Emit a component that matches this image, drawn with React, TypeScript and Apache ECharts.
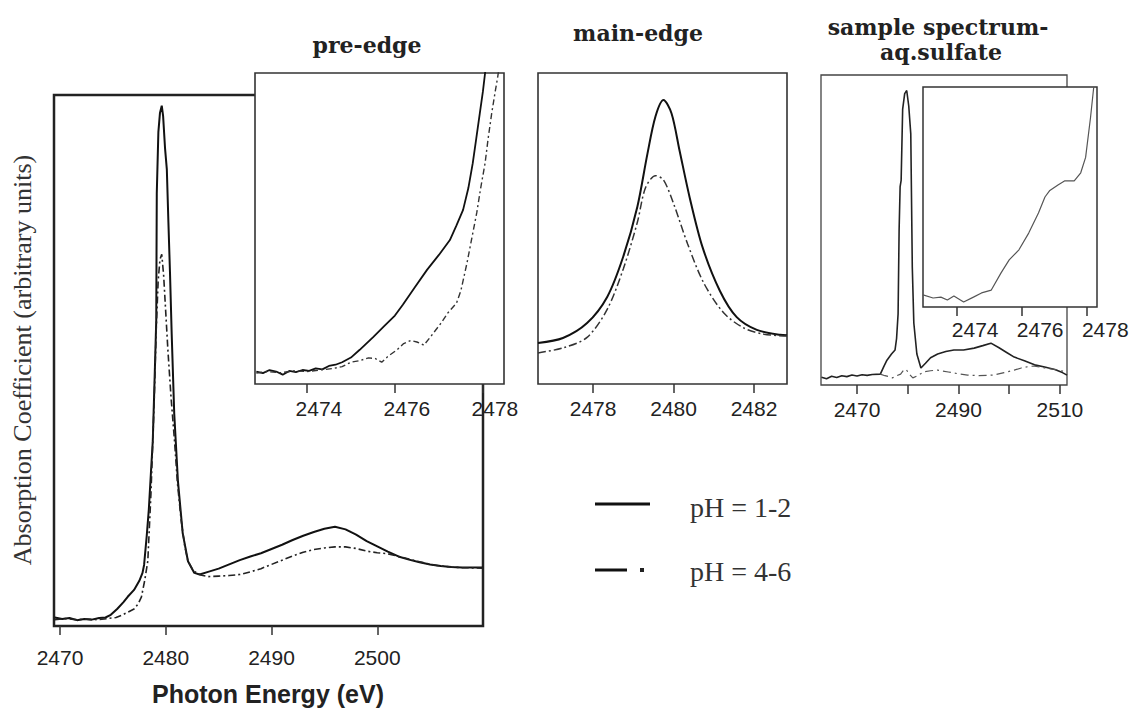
import React, { useEffect, useRef } from 'react';
import * as echarts from 'echarts';

// ---------- tick / label values ----------
const mainTicks = [2470, 2480, 2490, 2500];
const preEdgeTicks = [2474, 2476, 2478];
const mainEdgeTicks = [2478, 2480, 2482];
const sampleTicks = [2470, 2480, 2490, 2500, 2510];
const sampleLabels = [2470, 2490, 2510];
const sampleInsetTicks = [2474, 2476, 2478];

// ---------- texts ----------
const seriesNames = ['pH = 1-2', 'pH = 4-6'];
const panelTitles = ['pre-edge', 'main-edge', 'sample spectrum-', 'aq.sulfate'];
const yAxisTitle = 'Absorption Coefficient (arbitrary units)';
const xAxisTitle = 'Photon Energy (eV)';

// ---------- data: [energy eV, absorption (arb.)] ----------
const mainPH12: [number, number][] = [
  [2469.5, 0.016], [2470.2, 0.013], [2470.9, 0.015], [2471.6, 0.011], [2472.3, 0.013], [2473.0, 0.012],
  [2473.7, 0.015], [2474.3, 0.016], [2474.8, 0.021], [2475.4, 0.032], [2476.0, 0.045], [2476.4, 0.055],
  [2477.0, 0.068], [2477.5, 0.085], [2477.8, 0.1], [2477.95, 0.115], [2478.2, 0.17], [2478.4, 0.22],
  [2478.6, 0.29], [2478.77, 0.348], [2478.95, 0.47], [2479.1, 0.576], [2479.12, 0.676], [2479.15, 0.815],
  [2479.3, 0.93], [2479.45, 0.966], [2479.62, 0.98], [2479.75, 0.96], [2479.93, 0.9], [2480.1, 0.86],
  [2480.25, 0.76], [2480.4, 0.665], [2480.56, 0.55], [2480.8, 0.4], [2481.15, 0.273], [2481.6, 0.175],
  [2482.1, 0.122], [2482.7, 0.1], [2483.2, 0.097], [2484, 0.102], [2485, 0.108], [2486, 0.116],
  [2487, 0.124], [2488, 0.131], [2489, 0.137], [2490, 0.145], [2491, 0.153], [2492, 0.162],
  [2493, 0.17], [2494, 0.177], [2495, 0.183], [2496, 0.187], [2497, 0.182], [2498, 0.172],
  [2499, 0.16], [2500, 0.15], [2501, 0.14], [2502, 0.131], [2503, 0.125], [2504, 0.12],
  [2505, 0.116], [2506, 0.113], [2507, 0.111], [2508, 0.11], [2510, 0.11],
];
const mainPH46: [number, number][] = [
  [2469.5, 0.012], [2470.5, 0.014], [2471.5, 0.012], [2472.5, 0.013], [2473.5, 0.012], [2474.5, 0.014],
  [2475.3, 0.016], [2475.8, 0.02], [2476.5, 0.027], [2477.0, 0.032], [2477.4, 0.042], [2477.7, 0.055],
  [2478.0, 0.085], [2478.3, 0.122], [2478.6, 0.25], [2478.9, 0.42], [2479.1, 0.56], [2479.28, 0.65],
  [2479.45, 0.69], [2479.62, 0.7], [2479.8, 0.66], [2480.0, 0.59], [2480.2, 0.52], [2480.5, 0.43],
  [2480.83, 0.348], [2481.1, 0.27], [2481.45, 0.2], [2481.8, 0.15], [2482.1, 0.122], [2482.6, 0.104],
  [2483.3, 0.096], [2484, 0.093], [2485, 0.094], [2486, 0.095], [2487, 0.097], [2488, 0.102],
  [2489, 0.108], [2490, 0.116], [2491, 0.124], [2492, 0.132], [2493, 0.139], [2494, 0.144],
  [2495, 0.147], [2496, 0.149], [2497, 0.149], [2498, 0.146], [2499, 0.141], [2500, 0.138],
  [2501, 0.136], [2502, 0.131], [2503, 0.126], [2504, 0.121], [2505, 0.116], [2506, 0.113],
  [2507, 0.111], [2508, 0.11], [2510, 0.109],
];

const prePH12: [number, number][] = [
  [2472.85, 0.04], [2473.0, 0.035], [2473.15, 0.045], [2473.3, 0.04], [2473.45, 0.03], [2473.6, 0.042],
  [2473.75, 0.038], [2473.9, 0.045], [2474.05, 0.042], [2474.2, 0.05], [2474.35, 0.047], [2474.5, 0.058],
  [2474.65, 0.062], [2474.8, 0.07], [2475.0, 0.085], [2475.2, 0.11], [2475.5, 0.15], [2475.75, 0.185],
  [2476.0, 0.22], [2476.18, 0.255], [2476.45, 0.31], [2476.73, 0.367], [2477.0, 0.415], [2477.25, 0.463],
  [2477.4, 0.51], [2477.55, 0.56], [2477.67, 0.63], [2477.77, 0.71], [2477.85, 0.79], [2477.93, 0.87],
  [2478.0, 0.94], [2478.05, 1.0], [2478.1, 1.06],
];
const prePH46: [number, number][] = [
  [2472.85, 0.035], [2473.1, 0.04], [2473.4, 0.036], [2473.7, 0.042], [2474.0, 0.04], [2474.3, 0.045],
  [2474.6, 0.05], [2474.8, 0.056], [2475.0, 0.07], [2475.2, 0.075], [2475.4, 0.084], [2475.55, 0.082],
  [2475.7, 0.07], [2475.85, 0.09], [2476.05, 0.11], [2476.2, 0.13], [2476.36, 0.14], [2476.5, 0.135],
  [2476.66, 0.125], [2476.8, 0.15], [2477.05, 0.196], [2477.2, 0.228], [2477.4, 0.26], [2477.5, 0.3],
  [2477.64, 0.39], [2477.75, 0.47], [2477.86, 0.55], [2477.95, 0.63], [2478.05, 0.71], [2478.12, 0.79],
  [2478.2, 0.87], [2478.28, 0.94], [2478.34, 0.99], [2478.4, 1.05],
];

const edgePH12: [number, number][] = [
  [2476.63, 0.132], [2477.25, 0.148], [2477.85, 0.196], [2478.35, 0.28], [2478.75, 0.41], [2479.1, 0.57],
  [2479.35, 0.74], [2479.55, 0.86], [2479.75, 0.913], [2479.95, 0.87], [2480.15, 0.75], [2480.4, 0.6],
  [2480.72, 0.44], [2481.15, 0.3], [2481.57, 0.215], [2482.07, 0.174], [2482.65, 0.158], [2482.82, 0.157],
];
const edgePH46: [number, number][] = [
  [2476.63, 0.1], [2477.25, 0.116], [2477.85, 0.15], [2478.35, 0.24], [2478.75, 0.37], [2479.1, 0.52],
  [2479.3, 0.63], [2479.55, 0.67], [2479.75, 0.656], [2480.0, 0.58], [2480.35, 0.45], [2480.75, 0.325],
  [2481.25, 0.228], [2481.75, 0.18], [2482.25, 0.16], [2482.82, 0.154],
];

const samplePH12: [number, number][] = [
  [2463, 0.025], [2464, 0.02], [2465, 0.028], [2466, 0.024], [2467, 0.03], [2468, 0.027], [2469, 0.032],
  [2470, 0.029], [2471, 0.033], [2472, 0.031], [2473, 0.034], [2474.6, 0.035], [2475.3, 0.06],
  [2475.9, 0.08], [2476.8, 0.1], [2477.5, 0.113], [2477.8, 0.15], [2478.1, 0.23], [2478.3, 0.5],
  [2478.5, 0.64], [2478.7, 0.66], [2479.0, 0.89], [2479.4, 0.94], [2479.8, 0.95], [2480.2, 0.9],
  [2480.6, 0.81], [2480.9, 0.38], [2481.2, 0.2], [2481.8, 0.1], [2482.6, 0.055], [2483.5, 0.07],
  [2484.5, 0.088], [2485.9, 0.1], [2487.5, 0.108], [2489.1, 0.113], [2491, 0.113], [2493.1, 0.119],
  [2494.8, 0.127], [2496.4, 0.135], [2498, 0.12], [2499.5, 0.105], [2501, 0.09], [2503, 0.078],
  [2505, 0.065], [2507, 0.058], [2509, 0.05], [2510.5, 0.04], [2511.4, 0.032],
];
const samplePH46: [number, number][] = [
  [2474.6, 0.035], [2475.5, 0.03], [2476.3, 0.027], [2477.0, 0.023], [2477.8, 0.03], [2478.6, 0.035],
  [2479.2, 0.048], [2479.7, 0.05], [2480.3, 0.035], [2481, 0.023], [2482, 0.03], [2483.1, 0.042],
  [2484.5, 0.046], [2485.9, 0.048], [2488, 0.042], [2490, 0.036], [2491.8, 0.032], [2494, 0.03],
  [2497, 0.032], [2499, 0.04], [2501, 0.048], [2502.4, 0.055], [2504, 0.06], [2505, 0.061],
  [2507, 0.055], [2509, 0.05], [2511.4, 0.042],
];

const sampleInset: [number, number][] = [
  [2472.95, 0.055], [2473.26, 0.041], [2473.5, 0.045], [2473.7, 0.032], [2473.9, 0.05], [2474.2, 0.023],
  [2474.5, 0.045], [2474.75, 0.064], [2475.05, 0.077], [2475.35, 0.155], [2475.6, 0.214], [2475.9, 0.26],
  [2476.2, 0.336], [2476.5, 0.427], [2476.7, 0.5], [2476.85, 0.53], [2477.1, 0.555], [2477.3, 0.573],
  [2477.6, 0.573], [2477.8, 0.61], [2477.95, 0.68], [2478.1, 0.86], [2478.2, 1.0],
];

const SANS = '"Liberation Sans", Arial, sans-serif';
const SERIF = '"Liberation Serif", "Times New Roman", serif';
const TITLE_FONT = 'bold 22px "DejaVu Serif", "Liberation Serif", serif';

function makeX(
  gridIndex: number, min: number, max: number, ticks: number[], labels: number[],
  margin: number, shift: number, z: number
) {
  return {
    type: 'value', gridIndex, min, max, z,
    axisLine: { show: false },
    axisTick: { show: true, customValues: ticks, length: 9, lineStyle: { color: '#333', width: 1.5 } },
    axisLabel: {
      show: true, customValues: labels, margin, color: '#222', fontSize: 21, fontFamily: SANS,
      padding: [0, 0, 0, shift * 2], formatter: (v: number) => String(v),
    },
    splitLine: { show: false },
  };
}
function makeY(gridIndex: number, z: number) {
  return { type: 'value', gridIndex, min: 0, max: 1, show: false, z };
}

function line(name: string, xi: number, data: [number, number][], color: string, width: number, type: any, z: number, smooth: number | boolean = false) {
  return {
    type: 'line', name, xAxisIndex: xi, yAxisIndex: xi, data, showSymbol: false, symbol: 'none',
    smooth, clip: true, z, lineStyle: { color, width, type }, silent: true,
  };
}

function txt(text: string, x: number, y: number, font: string, fill: string, align = 'center', rotation = 0) {
  return {
    type: 'text', x, y, rotation, z: 20,
    style: { text, font, fill, align, verticalAlign: 'middle', textAlign: align, textVerticalAlign: 'middle' },
  };
}

export default function App() {
  const ref = useRef<HTMLDivElement>(null);
  useEffect(() => {
    if (!ref.current) return;
    const chart = echarts.init(ref.current, null, { renderer: 'svg' });
    const dashDot = [7, 3, 2, 3];
    const option: any = {
      animation: false,
      backgroundColor: '#fff',
      grid: [
        { left: 54, top: 95, width: 429, height: 531, show: true, borderColor: '#222', borderWidth: 2.5, backgroundColor: 'transparent', z: 0, containLabel: false, outerBoundsMode: 'none' },
        { left: 255, top: 73, width: 249, height: 311, show: true, borderColor: '#333', borderWidth: 1.6, backgroundColor: '#fff', z: 5, containLabel: false, outerBoundsMode: 'none' },
        { left: 538, top: 73, width: 249, height: 311, show: true, borderColor: '#333', borderWidth: 1.6, backgroundColor: '#fff', z: 5, containLabel: false, outerBoundsMode: 'none' },
        { left: 821, top: 75, width: 246, height: 310, show: true, borderColor: '#444', borderWidth: 1.3, backgroundColor: '#fff', z: 5, containLabel: false, outerBoundsMode: 'none' },
        { left: 923, top: 87, width: 174, height: 220, show: true, borderColor: '#333', borderWidth: 1.5, backgroundColor: '#fff', z: 10, containLabel: false, outerBoundsMode: 'none' },
      ],
      xAxis: [
        makeX(0, 2469.43, 2510, mainTicks, mainTicks, 21, 0, 1),
        makeX(1, 2472.82, 2478.48, preEdgeTicks, preEdgeTicks, 14, 12, 6),
        makeX(2, 2476.63, 2482.82, mainEdgeTicks, mainEdgeTicks, 14, 0, 6),
        makeX(3, 2462.9, 2511.4, sampleTicks, sampleLabels, 14, 0, 6),
        makeX(4, 2472.95, 2478.3, sampleInsetTicks, sampleInsetTicks, 12, 18, 11),
      ],
      yAxis: [makeY(0, 1), makeY(1, 6), makeY(2, 6), makeY(3, 6), makeY(4, 11)],
      series: [
        line(seriesNames[0], 0, mainPH12, '#111', 2, 'solid', 2),
        line(seriesNames[1], 0, mainPH46, '#222', 1.6, dashDot, 2),
        line(seriesNames[0], 1, prePH12, '#111', 1.8, 'solid', 7),
        line(seriesNames[1], 1, prePH46, '#333', 1.4, [6, 3, 2, 3], 7),
        line(seriesNames[0], 2, edgePH12, '#111', 2, 'solid', 7, 0.3),
        line(seriesNames[1], 2, edgePH46, '#333', 1.5, [8, 3, 2, 3], 7, 0.3),
        line(seriesNames[0], 3, samplePH12, '#222', 1.6, 'solid', 7),
        line(seriesNames[1], 3, samplePH46, '#555', 1.2, [8, 4, 2, 4], 7),
        line('sample', 4, sampleInset, '#555', 1.2, 'solid', 12),
      ],
      graphic: [
        txt(panelTitles[0], 367, 45, TITLE_FONT, '#222'),
        txt(panelTitles[1], 638, 33, TITLE_FONT, '#222'),
        txt(panelTitles[2], 938, 27, TITLE_FONT, '#222'),
        txt(panelTitles[3], 941, 52, TITLE_FONT, '#222'),
        txt(yAxisTitle, 22, 360, `26px ${SERIF}`, '#333', 'center', Math.PI / 2),
        txt(xAxisTitle, 268, 694, `bold 25px ${SANS}`, '#222'),
        // legend
        { type: 'line', z: 20, shape: { x1: 595, y1: 504, x2: 650, y2: 504 }, style: { stroke: '#111', lineWidth: 3 } },
        txt(seriesNames[0], 690, 507, `28px ${SERIF}`, '#333', 'left'),
        { type: 'line', z: 20, shape: { x1: 595, y1: 570, x2: 627, y2: 570 }, style: { stroke: '#111', lineWidth: 3 } },
        { type: 'rect', z: 20, shape: { x: 640, y: 568, width: 4, height: 4 }, style: { fill: '#222' } },
        txt(seriesNames[1], 690, 571, `28px ${SERIF}`, '#333', 'left'),
      ],
    };
    chart.setOption(option);
    return () => chart.dispose();
  }, []);
  return <div ref={ref} style={{ position: 'absolute', left: 0, top: 0, width: 1133, height: 709 }} />;
}
